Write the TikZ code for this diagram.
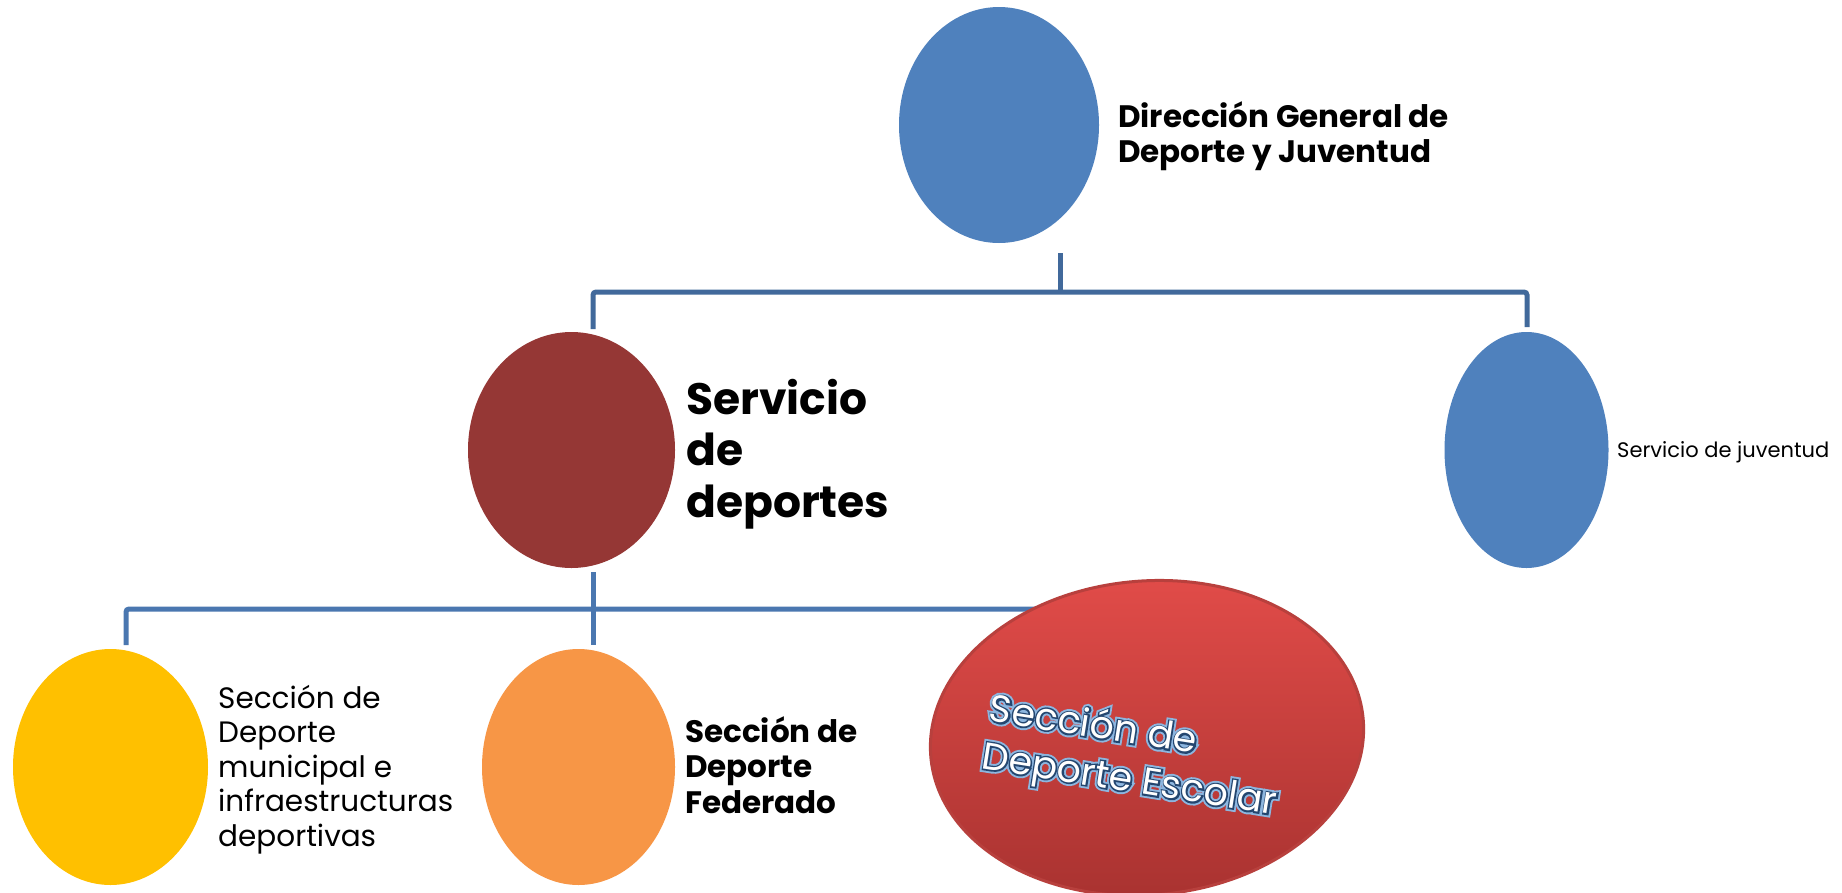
\documentclass[tikz,border=0pt]{standalone}
\usepackage{fontspec}
\setmainfont{Poppins}
\newfontfamily\waglowfont[FakeBold=18]{Poppins}
\newfontfamily\waedgefont[FakeBold=8]{Poppins}
\usetikzlibrary{shapes.geometric}
\definecolor{blueE}{HTML}{4F81BD}
\definecolor{maroonE}{HTML}{953735}
\definecolor{yellowE}{HTML}{FFC000}
\definecolor{orangeE}{HTML}{F79646}
\definecolor{redTop}{HTML}{E24C49}
\definecolor{redBot}{HTML}{A83230}
\definecolor{redRim}{HTML}{B8403D}
\definecolor{lineA}{HTML}{41699B}
\definecolor{lineB}{HTML}{4A77B0}
\definecolor{waDark}{HTML}{24466F}
\definecolor{waGlow}{HTML}{8DB6DF}
\tikzset{
  ell/.style={ellipse, draw=none, inner sep=0pt},
  connA/.style={draw=lineA, line width=5pt, rounded corners=3pt},
  connB/.style={draw=lineB, line width=5pt, rounded corners=3pt},
  lbl/.style={anchor=base west, align=left, inner sep=0pt, text=black},
  wa/.style={align=left, inner sep=0pt, rotate=-9},
}
\newcommand\escolartext{Sección de\\Deporte Escolar}
\begin{document}
\begin{tikzpicture}[x=1pt,y=-1pt]
\useasboundingbox (0,0) rectangle (1842,892);
\fill[white] (0,0) rectangle (1842,892);
% connector anchor points
\coordinate (bus1) at (0,292);
\coordinate (bus2) at (0,609);
\coordinate (dir-tail) at (1060,253);
\coordinate (dep-head) at (593,329);
\coordinate (juv-head) at (1527,327);
\coordinate (dep-tail) at (593,572);
\coordinate (mun-head) at (126,645);
\coordinate (fed-head) at (593,645);
\coordinate (esc-head) at (1147,645);
% connectors
\draw[connA] (dir-tail) -- (dir-tail |- bus1);
\draw[connA] (dep-head) |- (juv-head |- bus1) -- (juv-head);
\draw[connB] (mun-head) |- (esc-head |- bus2) -- (esc-head);
\draw[connB] (dep-tail) -- (fed-head);
% ellipses
\node[ell, fill=blueE, minimum width=200pt, minimum height=236pt] (dir) at (999,125) {};
\node[ell, fill=maroonE, minimum width=207pt, minimum height=236pt] (dep) at (571.5,450) {};
\node[ell, fill=blueE, minimum width=164pt, minimum height=236pt] (juv) at (1526.5,450) {};
\node[ell, fill=yellowE, minimum width=195pt, minimum height=236pt] (mun) at (110.5,767) {};
\node[ell, fill=orangeE, minimum width=193pt, minimum height=236pt] (fed) at (578.5,767) {};
\node[ell, top color=redTop, bottom color=redBot, draw=redRim, line width=3pt, minimum width=434pt, minimum height=314pt, rotate=5] (esc) at (1147,738) {};
% labels (anchored at the baseline of their last line)
\node[lbl, font=\bfseries\fontsize{31}{35}\selectfont] (dir-label) at (1118,162) {Dirección General de\\Deporte y Juventud};
\node[lbl, font=\bfseries\fontsize{44}{51.5}\selectfont] (dep-label) at (686,517) {Servicio\\de\\deportes};
\node[lbl, font=\fontsize{21}{25}\selectfont] (juv-label) at (1617,457) {Servicio de juventud};
\node[lbl, font=\fontsize{29.5}{34.5}\selectfont] (mun-label) at (218,846) {Sección de\\Deporte\\municipal e\\infraestructuras\\deportivas};
\node[lbl, font=\bfseries\fontsize{31}{35.5}\selectfont] (fed-label) at (685,813) {Sección de\\Deporte\\Federado};
% word-art label: glow, dark edge, white face
\node[wa, text=waGlow, font=\waglowfont\fontsize{38}{48}\selectfont] (esc-glow) at (1133,758) {\escolartext};
\node[wa, text=waDark, font=\waedgefont\fontsize{38}{48}\selectfont] (esc-edge) at (1133,758) {\escolartext};
\node[wa, text=white, font=\fontsize{38}{48}\selectfont] (esc-label) at (1133,758) {\escolartext};
\end{tikzpicture}
\end{document}
